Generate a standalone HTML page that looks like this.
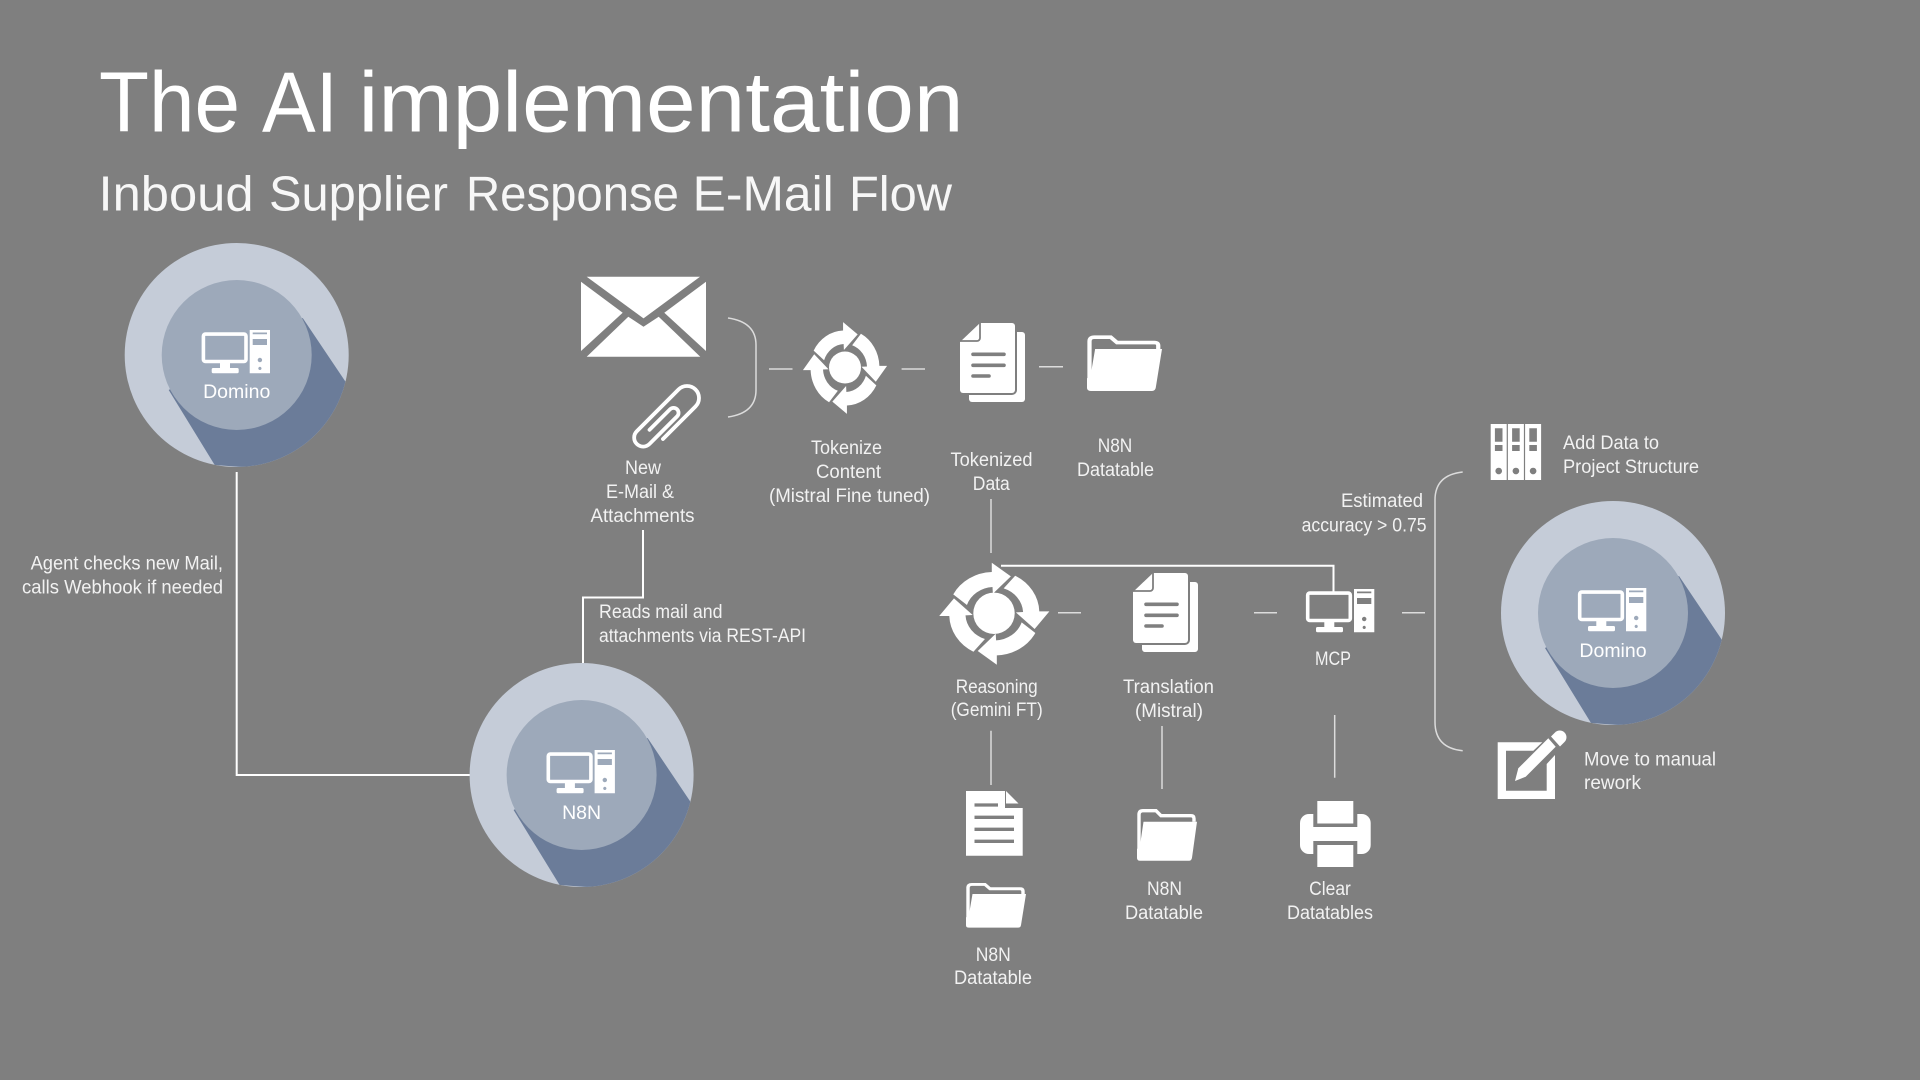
<!DOCTYPE html>
<html><head><meta charset="utf-8"><title>The AI implementation</title>
<style>html,body{margin:0;padding:0;background:#7f7f7f;width:1920px;height:1080px;overflow:hidden}svg{display:block}
text{font-family:"Liberation Sans",sans-serif;fill:#f2f2f2;font-size:19px}</style></head><body>
<svg width="1920" height="1080" viewBox="0 0 1920 1080" xmlns="http://www.w3.org/2000/svg">
<defs>
<clipPath id="cl"><circle cx="0" cy="0" r="112"/></clipPath>
<g id="pc">
<rect x="-33.3" y="-20.9" width="42.6" height="27.4" rx="2" fill="none" stroke="#fff" stroke-width="3.6"/>
<rect x="-16.7" y="8" width="10" height="6" fill="#fff"/>
<rect x="-25" y="13" width="27" height="5.3" rx="1.5" fill="#fff"/>
<path fill="#fff" fill-rule="evenodd" d="M13,-25H33.3V18.3H13Z M16,-22.5V-20.8H30.3V-22.5Z M16,-16V-10H30.3V-16Z M23.2,2.8a2.2,2.2 0 1 0 .01,0Z M23.2,11.8a1.6,1.6 0 1 0 .01,0Z"/>
</g>
<g id="node">
<circle r="112" fill="#c5ccd8"/>
<polygon clip-path="url(#cl)" points="66,-37 109,27 115,120 -22,110 -68,35" fill="#6b7c99"/>
<circle r="75" fill="#9da9ba"/>
<use href="#pc"/>
</g>
<g id="sync" fill="#fff">
<path id="arr" d="M-114,-58A126,126 0 0 1 -7,-125L-7,-153L46,-112L-4,-60L-5,-80A80,80 0 0 0 -76,-26Z"/>
<use href="#arr" transform="rotate(90)"/><use href="#arr" transform="rotate(180)"/><use href="#arr" transform="rotate(270)"/>
</g>
<path id="front" d="M20,0H52a3,3 0 0 1 3,3V67a3,3 0 0 1 -3,3H3a3,3 0 0 1 -3,-3V19Z"/>
<g id="doc">
<rect x="9" y="9" width="56" height="70" rx="3" fill="#fff"/>
<use href="#front" fill="#7f7f7f" stroke="#7f7f7f" stroke-width="4"/>
<use href="#front" fill="#fff"/>
<path d="M20,0V15a3,3 0 0 1 -3,3H0" fill="none" stroke="#7f7f7f" stroke-width="1.8"/>
<path d="M13,31.3H44M13,42.3H44M13,53H29" stroke="#7f7f7f" stroke-width="3.6" stroke-linecap="round"/>
</g>
<g id="folder">
<path d="M2,50V6Q2,2 6,2H19L24,7H54Q57,7 57,10V13" fill="none" stroke="#fff" stroke-width="3.4"/>
<path d="M6.5,13H60L55,49Q54.5,52 52,52H3Q0,52 0,49V40H2.5Z" fill="#fff"/>
</g>
</defs>

<text x="99" y="131.5" style="font-size:85px;fill:#fff" textLength="141" lengthAdjust="spacingAndGlyphs">The</text>
<text x="262" y="131.5" style="font-size:85px;fill:#fff" textLength="76" lengthAdjust="spacingAndGlyphs">AI</text>
<text x="358.5" y="131.5" style="font-size:85px;fill:#fff" textLength="605" lengthAdjust="spacingAndGlyphs">implementation</text>
<text x="98.5" y="210.7" style="font-size:49px;fill:#f7f7f7" textLength="155" lengthAdjust="spacingAndGlyphs">Inboud</text>
<text x="269" y="210.7" style="font-size:49px;fill:#f7f7f7" textLength="179" lengthAdjust="spacingAndGlyphs">Supplier</text>
<text x="466" y="210.7" style="font-size:49px;fill:#f7f7f7" textLength="213" lengthAdjust="spacingAndGlyphs">Response</text>
<text x="692.7" y="210.7" style="font-size:49px;fill:#f7f7f7" textLength="141" lengthAdjust="spacingAndGlyphs">E-Mail</text>
<text x="849" y="210.7" style="font-size:49px;fill:#f7f7f7" textLength="103" lengthAdjust="spacingAndGlyphs">Flow</text>

<!-- connectors -->
<g fill="none" stroke="#fff" stroke-width="2">
<path d="M236.7,472V775H470"/>
<path d="M583,663V597.5H643V530"/>
<path d="M1001,565.7H1333.5V593"/>
</g>
<g fill="none" stroke="#dcdcdc" stroke-width="1.5">
<path d="M728,318Q756,322 756,345V390Q756,413 728,417"/>
<path d="M1462.7,472Q1435,475 1435,500V722Q1435,748 1462.7,750.7"/>
<path d="M769,369H792.5M901.6,369H925M1039,366.7H1063M1058,612.7H1081M1254,612.7H1277M1402,612.7H1425"/>
<path d="M991,499V553M991,730.7V785M1162,726V789M1334.7,715V777.7"/>
</g>

<!-- nodes -->
<use href="#node" transform="translate(236.7,355)"/>
<use href="#node" transform="translate(581.6,775)"/>
<use href="#node" transform="translate(1613,613)"/>
<text x="236.7" y="398" text-anchor="middle" style="font-size:19.5px;fill:#fff">Domino</text>
<text x="581.6" y="819" text-anchor="middle" style="font-size:19.5px;fill:#fff">N8N</text>
<text x="1613" y="657" text-anchor="middle" style="font-size:19.5px;fill:#fff">Domino</text>

<!-- envelope -->
<g transform="translate(581,276.7)" fill="#fff">
<polygon points="5.7,0 119,0 62.5,41.7"/>
<polygon points="0,5 41.7,36 0,74.3"/>
<polygon points="125,5 83.3,36 125,74.3"/>
<polygon points="5.7,80 47.3,40 62.5,50 77.7,40 119.3,80"/>
</g>
<!-- paperclip -->
<g transform="translate(667.2,417.8) rotate(45)" fill="none" stroke="#fff" stroke-width="3.8" stroke-linecap="round">
<path d="M12,18V-28A12,12 0 0 0 -12,-28V31A9,9 0 0 0 6,31V-8A5,5 0 0 0 -4,-8V21"/>
</g>

<use href="#sync" transform="translate(845,368) scale(.275,.30)"/>
<circle cx="845" cy="367.5" r="16" fill="#fff"/>
<use href="#doc" transform="translate(960,323)"/>
<use href="#folder" transform="translate(1087,335) scale(1.25,1.077)"/>
<use href="#sync" transform="translate(994.3,613.7) scale(.36,.3333)"/>
<circle cx="994" cy="613.3" r="20.7" fill="#fff"/>
<use href="#doc" transform="translate(1133,573)"/>
<use href="#pc" transform="translate(1341,614)"/>

<!-- doc 3 -->
<g transform="translate(966,791)">
<path d="M0,0H39V17H56.7V64.7H0Z" fill="#fff"/>
<polygon points="40,0 52.5,12.5 40,12.5" fill="#fff"/>
<path d="M8.5,14H32M8.5,26.3H48M8.5,38.3H48M8.5,50.3H48" stroke="#7f7f7f" stroke-width="3.3"/>
</g>
<use href="#folder" transform="translate(966,882.7) scale(1,.865)"/>
<use href="#folder" transform="translate(1137,808.7)"/>

<!-- printer -->
<g transform="translate(1300,801)">
<rect x="0" y="13" width="70.7" height="40" rx="9" fill="#fff"/>
<rect x="13.3" y="10" width="44" height="16" fill="#7f7f7f"/>
<rect x="13.3" y="40" width="44" height="16" fill="#7f7f7f"/>
<rect x="17.3" y="0" width="36" height="22.5" fill="#fff"/>
<rect x="17.3" y="44" width="36" height="22" fill="#fff"/>
</g>

<!-- binders -->
<g transform="translate(1490.7,424)">
<path fill="#fff" fill-rule="evenodd" id="bd" d="M0,0H16V56H0Z M4.2,4.3V17.7H11.8V4.3Z M4.2,21V27H11.8V21Z M8,43.7a3.3,3.3 0 1 0 .01,0Z"/>
<use href="#bd" x="17.2"/><use href="#bd" x="34.4"/>
</g>

<!-- pencil -->
<g fill="#fff">
<polygon points="1497.7,742.3 1542.3,742.3 1533.3,750.7 1506,750.7 1506,790.7 1546.7,790.7 1546.7,764 1555,755 1555,799 1497.7,799"/>
<polygon points="1515,781 1518.3,768.3 1548.3,738.3 1555.7,746.7 1525.7,776.7"/>
<path d="M1551,736.5L1555,732.5A6.7,6.7 0 0 1 1564.5,742L1560,746.5Z"/>
</g>

<!-- labels -->
<g text-anchor="middle">
<text x="643" y="474" textLength="36" lengthAdjust="spacingAndGlyphs">New</text>
<text x="640" y="498" textLength="68" lengthAdjust="spacingAndGlyphs">E-Mail &amp;</text>
<text x="642.5" y="522" textLength="104" lengthAdjust="spacingAndGlyphs">Attachments</text>
<text x="846.5" y="454" textLength="71" lengthAdjust="spacingAndGlyphs">Tokenize</text>
<text x="848.5" y="478" textLength="65" lengthAdjust="spacingAndGlyphs">Content</text>
<text x="849.5" y="502" textLength="161" lengthAdjust="spacingAndGlyphs">(Mistral Fine tuned)</text>
<text x="991.5" y="466" textLength="82" lengthAdjust="spacingAndGlyphs">Tokenized</text>
<text x="991.3" y="490" textLength="37" lengthAdjust="spacingAndGlyphs">Data</text>
<text x="1115" y="452" textLength="34.5" lengthAdjust="spacingAndGlyphs">N8N</text>
<text x="1115.5" y="476" textLength="77" lengthAdjust="spacingAndGlyphs">Datatable</text>
<text x="1333" y="665" textLength="36" lengthAdjust="spacingAndGlyphs">MCP</text>
<text x="996.7" y="693" textLength="82" lengthAdjust="spacingAndGlyphs">Reasoning</text>
<text x="996.7" y="716" textLength="92" lengthAdjust="spacingAndGlyphs">(Gemini FT)</text>
<text x="1168.5" y="693" textLength="91" lengthAdjust="spacingAndGlyphs">Translation</text>
<text x="1169" y="717" textLength="68" lengthAdjust="spacingAndGlyphs">(Mistral)</text>
<text x="993.3" y="961" textLength="35" lengthAdjust="spacingAndGlyphs">N8N</text>
<text x="993" y="984" textLength="78" lengthAdjust="spacingAndGlyphs">Datatable</text>
<text x="1164.5" y="895" textLength="35" lengthAdjust="spacingAndGlyphs">N8N</text>
<text x="1164" y="919" textLength="78" lengthAdjust="spacingAndGlyphs">Datatable</text>
<text x="1330" y="895" textLength="41.7" lengthAdjust="spacingAndGlyphs">Clear</text>
<text x="1330" y="919" textLength="86" lengthAdjust="spacingAndGlyphs">Datatables</text>
</g>
<text x="1563" y="449" textLength="96" lengthAdjust="spacingAndGlyphs">Add Data to</text>
<text x="1563" y="473" textLength="136" lengthAdjust="spacingAndGlyphs">Project Structure</text>
<text x="1584" y="765.7" textLength="132" lengthAdjust="spacingAndGlyphs">Move to manual</text>
<text x="1584" y="789" textLength="57" lengthAdjust="spacingAndGlyphs">rework</text>
<text x="1341" y="507" textLength="82" lengthAdjust="spacingAndGlyphs">Estimated</text>
<text x="1301.6" y="531.5" textLength="125" lengthAdjust="spacingAndGlyphs">accuracy &gt; 0.75</text>
<text x="30.6" y="569.5" textLength="192.4" lengthAdjust="spacingAndGlyphs">Agent checks new Mail,</text>
<text x="22" y="593.5" textLength="201" lengthAdjust="spacingAndGlyphs">calls Webhook if needed</text>
<text x="599" y="618" textLength="123.5" lengthAdjust="spacingAndGlyphs">Reads mail and</text>
<text x="599" y="642" textLength="207" lengthAdjust="spacingAndGlyphs">attachments via REST-API</text>
</svg>
</body></html>
